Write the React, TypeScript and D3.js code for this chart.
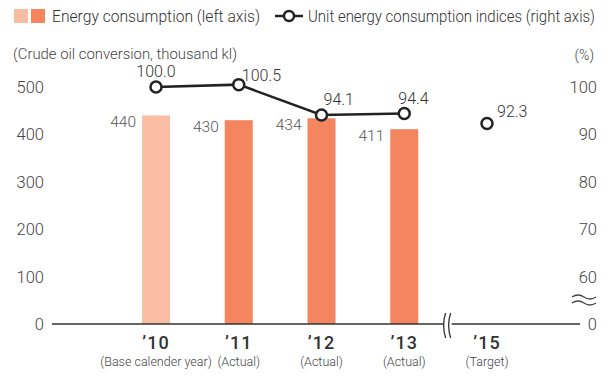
import React from 'react';
import * as d3 from 'd3';

const years = ['’10', '’11', '’12', '’13', '’15'];
const yearNotes = ['(Base calender year)', '(Actual)', '(Actual)', '(Actual)', '(Target)'];
const energy = [440, 430, 434, 411];
const indices = [100.0, 100.5, 94.1, 94.4, 92.3];
const leftTicks = [0, 100, 200, 300, 400, 500];
const rightTicks = [60, 70, 80, 90, 100];

const FONT = 'Roboto, "Liberation Sans", sans-serif';
const BASE_COLOR = '#F9BDA3';
const BAR_COLOR = '#F4855F';
const TEXT = '#444';

// where each index label sits relative to its marker: [dx, dy, anchor]
const idxLabelOffset: [number, number, string][] = [
  [0, -10, 'middle'],
  [3, -4, 'start'],
  [2, -10, 'start'],
  [-6, -10, 'start'],
  [10, -6, 'start'],
];

// condensed text: squeeze horizontally so it spans `w` pixels
const Condensed = ({ x, y, w, size, sx, fill, children }: any) => (
  <text transform={`translate(${x},${y}) scale(${sx},1)`} fontSize={size} fontWeight={300} fill={fill}
    textLength={w / sx} lengthAdjust="spacingAndGlyphs">{children}</text>
);

export default function App() {
  const width = 610;
  const height = 376;
  const x = d3.scalePoint<string>().domain(years).range([156, 487]);
  const yL = d3.scaleLinear().domain([0, 500]).range([324, 87]);
  const yR = d3.scaleLinear().domain([50, 100]).range([324, 87]);
  const barW = 28;

  const linePts = indices.slice(0, 4).map((v, i) => [x(years[i])!, yR(v)] as [number, number]);
  const line = d3.line()(linePts) || '';

  const breakX = (x(years[3])! + x(years[4])!) / 2 + 2;

  return (
    <svg width={width} height={height} style={{ position: 'absolute', left: 0, top: 0, fontFamily: FONT }}>
      <rect width={width} height={height} fill="#fff" />

      {/* legend */}
      <rect x={14} y={9} width={14} height={14} fill={BASE_COLOR} />
      <rect x={31} y={9} width={14} height={14} fill={BAR_COLOR} />
      <Condensed x={52} y={22} w={208} size={17} sx={0.87} fill="#333">Energy consumption (left axis)</Condensed>
      <line x1={275} x2={303} y1={16} y2={16} stroke="#222" strokeWidth={2.5} />
      <circle cx={289} cy={16} r={5} fill="#fff" stroke="#222" strokeWidth={2.5} />
      <Condensed x={308} y={22} w={287} size={17} sx={0.87} fill="#333">Unit energy consumption indices (right axis)</Condensed>

      <Condensed x={13} y={59} w={224} size={14} sx={0.92} fill={TEXT}>(Crude oil conversion, thousand kl)</Condensed>
      <text x={594} y={60} fontSize={14} fontWeight={300} fill={TEXT} textAnchor="end">(%)</text>

      {/* left axis ticks */}
      {leftTicks.map(t => (
        <text key={t} x={44} y={yL(t) + 6} fontSize={16.5} fontWeight={300} fill={TEXT} textAnchor="end">{t}</text>
      ))}
      {/* right axis ticks */}
      {rightTicks.map(t => (
        <text key={t} x={597} y={yR(t) + 6} fontSize={16.5} fontWeight={300} fill={TEXT} textAnchor="end">{t}</text>
      ))}
      <text x={597} y={yL(0) + 6} fontSize={16.5} fontWeight={300} fill={TEXT} textAnchor="end">0</text>
      {/* right axis break mark */}
      <path d="M572,297 q6,-4 12,0 t12,0 M572,303 q6,-4 12,0 t12,0" fill="none" stroke={TEXT} strokeWidth={1.3} />

      {/* bars */}
      {energy.map((v, i) => (
        <g key={i}>
          <rect x={x(years[i])! - barW / 2} y={yL(v)} width={barW} height={yL(0) - yL(v)}
            fill={i === 0 ? BASE_COLOR : BAR_COLOR} />
          <text x={x(years[i])! - barW / 2 - 6} y={yL(v) + 12} fontSize={15.5} fontWeight={300} fill="#555" textAnchor="end">{v}</text>
        </g>
      ))}

      {/* x axis with break */}
      <line x1={52} x2={breakX - 4} y1={yL(0)} y2={yL(0)} stroke="#333" strokeWidth={1.5} />
      <line x1={breakX + 4} x2={580} y1={yL(0)} y2={yL(0)} stroke="#333" strokeWidth={1.5} />
      <path d={`M${breakX - 2},313 q-4,12 0,25 M${breakX + 3},313 q-4,12 0,25`} fill="none" stroke="#333" strokeWidth={1.3} />

      {years.map((yr, i) => (
        <g key={yr}>
          <text x={x(yr)!} y={349} fontSize={18} fill="#333" fontWeight={500} textAnchor="middle" letterSpacing={1}>{yr}</text>
          <text x={x(yr)!} y={366} fontSize={12.5} fontWeight={300} fill={TEXT} textAnchor="middle">{yearNotes[i]}</text>
        </g>
      ))}

      {/* index line */}
      <path d={line} fill="none" stroke="#222" strokeWidth={2.5} />
      {indices.map((v, i) => {
        const cx = x(years[i])!;
        const cy = yR(v);
        const [dx, dy, anchor] = idxLabelOffset[i];
        return (
          <g key={i}>
            <circle cx={cx} cy={cy} r={5.5} fill="#fff" stroke="#222" strokeWidth={2.5} />
            <text x={cx + dx} y={cy + dy} fontSize={16} fontWeight={300} fill="#333" textAnchor={anchor}>{v.toFixed(1)}</text>
          </g>
        );
      })}
    </svg>
  );
}
